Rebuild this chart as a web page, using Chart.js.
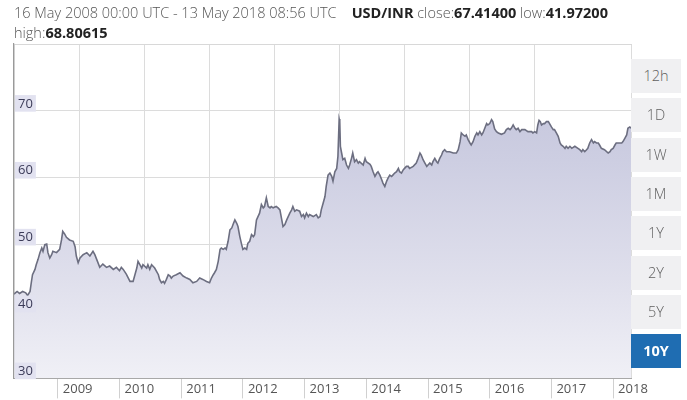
<!DOCTYPE html>
<html>
<head>
<meta charset="utf-8">
<script src="https://cdn.jsdelivr.net/npm/chart.js@4.4.1/dist/chart.umd.min.js"></script>
<style>
  html, body { margin: 0; padding: 0; background: #fff; width: 687px; height: 400px; overflow: hidden; }
  #wrap { position: relative; width: 687px; height: 400px; }
  #c { position: absolute; left: 0; top: 0; }
  #hdr { position: absolute; left: 14px; top: 3px; font-family: "Open Sans", sans-serif; font-size: 14.5px; line-height: 20px; color: #555; font-weight: 300; white-space: nowrap; }
  #hdr b { color: #222; font-weight: 700; }
  #btns { position: absolute; left: 631px; top: 59px; width: 50px; }
  .btn { position: absolute; left: 0; width: 50px; height: 34px; background: #f0f0f2; color: #606060; font-family: "Open Sans", sans-serif; font-size: 14.5px; font-weight: 300; text-align: center; line-height: 34px; }
  .btn.on { background: #1f6db2; color: #fff; font-weight: 700; }
</style>
</head>
<body>
<div id="wrap">
  <canvas id="c" width="687" height="400"></canvas>
  <div id="hdr"></div>
  <div id="btns"></div>
</div>
<script>
// ---- header info ----
const rangeText = "16 May 2008 00:00 UTC - 13 May 2018 08:56 UTC";
const pairName = "USD/INR";
const closeValue = "67.41400";
const lowValue = "41.97200";
const highValue = "68.80615";
const rangeButtons = ["12h", "1D", "1W", "1M", "1Y", "2Y", "5Y", "10Y"];
const activeButton = "10Y";

// ---- axis ticks ----
const yearTicks = [2009, 2010, 2011, 2012, 2013, 2014, 2015, 2016, 2017, 2018];
const rateTicks = [30, 40, 50, 60, 70];

// ---- series (decimal year, USD/INR rate) ----
const dates = [
2008.29,2008.34,2008.38,2008.43,2008.48,2008.51,2008.55,2008.57,2008.59,2008.63,2008.65,2008.68,2008.71,2008.74,2008.76,2008.79,2008.82,2008.84,2008.87,2008.90,2008.92,2008.98,
2009.03,2009.06,2009.08,2009.11,2009.14,2009.19,2009.25,2009.28,2009.30,2009.33,2009.36,2009.41,2009.47,2009.52,2009.57,2009.60,2009.63,2009.68,2009.73,2009.79,2009.84,2009.90,2009.95,
2010.00,2010.03,2010.06,2010.11,2010.17,2010.22,2010.28,2010.30,2010.33,2010.36,2010.38,2010.44,2010.46,2010.49,2010.52,2010.54,2010.57,2010.60,2010.63,2010.65,2010.68,2010.71,2010.73,2010.76,2010.79,2010.82,2010.84,2010.87,2010.92,2010.98,
2011.03,2011.09,2011.14,2011.19,2011.25,2011.30,2011.35,2011.41,2011.46,2011.49,2011.52,2011.54,2011.57,2011.60,2011.63,2011.65,2011.68,2011.71,2011.73,2011.76,2011.79,2011.82,2011.84,2011.87,2011.90,2011.92,2011.95,2011.98,
2012.00,2012.03,2012.06,2012.08,2012.11,2012.14,2012.17,2012.19,2012.22,2012.27,2012.30,2012.33,2012.35,2012.38,2012.41,2012.44,2012.46,2012.49,2012.54,2012.57,2012.60,2012.63,2012.65,2012.68,2012.71,2012.76,2012.79,2012.81,2012.84,2012.87,2012.92,2012.95,2012.98,
2013.00,2013.03,2013.06,2013.08,2013.14,2013.19,2013.22,2013.25,2013.27,2013.30,2013.33,2013.35,2013.38,2013.41,2013.44,2013.46,2013.49,2013.52,2013.54,2013.56,2013.57,2013.58,2013.60,2013.62,2013.65,2013.68,2013.71,2013.73,2013.76,2013.78,2013.81,2013.84,2013.87,2013.89,2013.95,2013.98,
2014.00,2014.06,2014.08,2014.11,2014.14,2014.17,2014.19,2014.22,2014.25,2014.27,2014.30,2014.33,2014.35,2014.38,2014.41,2014.43,2014.46,2014.49,2014.52,2014.54,2014.57,2014.60,2014.62,2014.65,2014.68,2014.70,2014.76,2014.81,2014.84,2014.87,2014.89,2014.92,2014.95,2014.98,
2015.00,2015.03,2015.06,2015.08,2015.11,2015.14,2015.16,2015.19,2015.22,2015.24,2015.27,2015.30,2015.35,2015.41,2015.46,2015.49,2015.52,2015.54,2015.57,2015.60,2015.62,2015.65,2015.68,2015.70,2015.73,2015.76,2015.79,2015.81,2015.84,2015.87,2015.89,2015.92,2015.95,2015.97,
2016.00,2016.03,2016.05,2016.08,2016.11,2016.14,2016.19,2016.24,2016.27,2016.30,2016.33,2016.35,2016.38,2016.41,2016.43,2016.46,2016.49,2016.52,2016.57,2016.62,2016.68,2016.70,2016.73,2016.76,2016.78,2016.80,2016.82,2016.84,2016.87,2016.89,2016.92,2016.95,2016.97,
2017.00,2017.03,2017.05,2017.08,2017.11,2017.14,2017.16,2017.19,2017.22,2017.24,2017.27,2017.30,2017.33,2017.38,2017.43,2017.46,2017.49,2017.51,2017.54,2017.57,2017.59,2017.62,2017.65,2017.68,2017.70,2017.73,2017.76,2017.78,2017.81,2017.86,2017.92,2017.95,2017.97,
2018.00,2018.03,2018.05,2018.08,2018.14,2018.16,2018.19,2018.22,2018.24,2018.27,2018.29
];
const rates = [
42.6,43.0,42.7,43.0,42.8,42.4,43.0,44.3,45.5,46.3,47.0,47.8,48.8,49.5,49.0,50.0,50.1,48.8,48.0,48.5,49.0,48.8,
49.3,50.7,52.0,51.6,51.1,50.7,50.5,49.7,48.3,47.3,48.0,48.5,48.8,48.3,49.0,48.5,47.8,46.6,47.1,46.6,46.8,46.3,46.6,
46.1,46.6,46.3,45.6,44.5,44.5,46.5,47.5,47.0,46.5,47.0,46.5,47.0,46.3,47.0,46.8,46.5,46.0,45.5,44.8,44.3,44.5,44.2,44.8,45.5,45.3,45.0,45.3,45.5,45.8,
45.3,45.0,44.8,44.3,44.5,45.0,44.8,44.5,44.3,45.0,45.5,45.8,46.3,47.5,49.3,49.5,49.3,49.5,49.3,50.5,52.2,52.5,53.0,53.7,53.2,52.7,51.2,50.0,
49.3,49.5,49.3,50.2,50.5,51.5,51.2,51.5,53.7,54.7,56.0,55.5,55.7,57.0,55.7,55.5,55.7,55.5,55.7,55.5,55.2,53.7,52.7,53.0,53.7,54.7,55.2,55.7,55.0,55.2,55.0,54.2,54.5,
54.0,54.7,54.2,54.5,54.2,54.5,54.0,54.2,55.2,56.2,57.2,58.7,60.4,60.7,60.2,59.5,60.9,61.4,63.2,68.8,68.4,64.7,63.7,62.7,62.9,61.9,61.4,61.9,62.9,63.7,62.4,62.7,62.2,62.4,61.9,62.9,
62.4,62.0,61.7,60.9,60.2,60.7,60.9,60.4,59.7,59.2,58.7,59.5,59.9,60.4,60.2,60.4,60.7,60.9,61.4,60.9,60.7,61.2,61.4,61.7,61.7,61.4,61.7,62.2,62.9,63.7,63.4,62.7,62.2,61.7,
61.9,62.2,61.9,62.4,62.9,62.4,62.2,62.9,63.4,63.9,64.2,63.9,63.9,63.7,63.7,64.2,65.4,66.7,66.4,66.2,66.4,65.7,65.2,64.9,65.4,66.2,66.7,66.4,66.9,66.4,66.7,67.4,68.1,67.9,
68.1,68.7,68.4,67.3,66.9,66.7,66.5,66.7,67.2,67.4,67.2,67.4,67.9,67.4,67.2,67.4,66.9,67.2,67.2,66.9,66.9,66.7,66.9,66.7,67.9,68.6,68.4,67.9,68.1,68.1,68.4,68.4,68.1,
67.6,67.2,67.2,66.7,66.2,65.2,64.9,64.7,64.4,64.7,64.4,64.7,64.4,64.7,64.4,64.2,63.9,64.2,63.9,64.2,64.4,65.2,65.7,65.2,65.4,65.2,65.2,64.9,64.4,64.2,63.7,63.9,64.2,
64.4,64.9,65.2,65.2,65.2,65.4,65.9,66.4,67.4,67.6,67.41
];

// ---- header + buttons (HTML text) ----
document.getElementById('hdr').innerHTML =
  rangeText + '&nbsp;&nbsp;&nbsp; <b>' + pairName + '</b> close:<b>' + closeValue + '</b> low:<b>' + lowValue + '</b><br>high:<b>' + highValue + '</b>';
const btnBox = document.getElementById('btns');
rangeButtons.forEach((t, i) => {
  const d = document.createElement('div');
  d.className = 'btn' + (t === activeButton ? ' on' : '');
  d.style.top = (i * 39.3) + 'px';
  d.textContent = t;
  btnBox.appendChild(d);
});

const points = dates.map((d, i) => ({ x: d, y: rates[i] }));

function areaGradient(ctx) {
  const chart = ctx.chart;
  const area = chart.chartArea;
  if (!area) return '#d4d5e6';
  const g = chart.ctx.createLinearGradient(0, area.top, 0, area.bottom);
  g.addColorStop(0, '#c0c1d8');
  g.addColorStop(0.35, '#cdcee2');
  g.addColorStop(0.7, '#dfdfec');
  g.addColorStop(1, '#f0f0f6');
  return g;
}

new Chart(document.getElementById('c'), {
  type: 'line',
  data: {
    datasets: [{
      data: points,
      borderColor: '#6c6e80',
      borderWidth: 1.6,
      backgroundColor: areaGradient,
      fill: 'start',
      pointRadius: 0,
      tension: 0
    }]
  },
  options: {
    responsive: false,
    devicePixelRatio: 1,
    animation: false,
    events: [],
    layout: { padding: { left: 6, top: 44, right: 56, bottom: 0 } },
    plugins: { legend: { display: false }, tooltip: { enabled: false } },
    scales: {
      x: {
        type: 'linear',
        position: 'bottom',
        min: dates[0],
        max: dates[dates.length - 1],
        afterBuildTicks: s => { s.ticks = yearTicks.map(v => ({ value: v })); },
        grid: { drawOnChartArea: false, drawTicks: true, tickLength: 20, color: '#d0d0d0', lineWidth: 1 },
        border: { display: true, color: '#a8a8a8', width: 1, z: 1 },
        title: { display: true, text: ' ', padding: 0, font: { size: 10, lineHeight: '20px' } },
        ticks: {
          autoSkip: false, maxRotation: 0, minRotation: 0,
          align: 'start', labelOffset: 5, padding: -17,
          color: '#555', font: { family: 'Open Sans', size: 13 },
          callback: v => String(v)
        }
      },
      xg: {
        type: 'linear',
        position: 'top',
        min: 0,
        max: 9.49,
        ticks: { display: false, stepSize: 1 },
        grid: { drawTicks: false, color: '#dcdcdc', lineWidth: 1 },
        border: { display: true, color: '#d8d8d8' }
      },
      y: {
        type: 'linear',
        position: 'left',
        min: 30,
        max: 80,
        afterBuildTicks: s => { s.ticks = rateTicks.map(v => ({ value: v })); },
        grid: { drawTicks: false, color: '#dcdcdc', lineWidth: 1 },
        border: { display: true, color: '#9a9a9a', width: 1.2, z: 1 },
        ticks: {
          z: 1,
          mirror: true, padding: 4, labelOffset: -7,
          showLabelBackdrop: true, backdropColor: '#e2e2f0',
          backdropPadding: { top: 1, bottom: 0, left: 3, right: 3 },
          color: '#3b3b58', font: { family: 'Open Sans', size: 13 },
          callback: v => String(v)
        }
      }
    }
  }
});
</script>
</body>
</html>
